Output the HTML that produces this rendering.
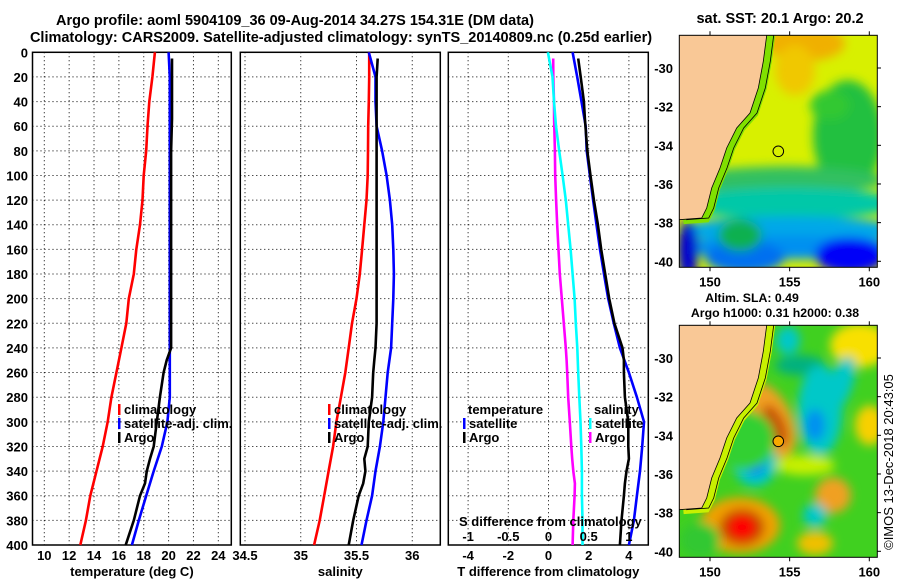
<!DOCTYPE html>
<html><head><meta charset="utf-8"><style>
html,body{margin:0;padding:0;background:#fff}
svg{display:block}
text{font-family:"Liberation Sans",Arial,sans-serif;font-weight:bold;font-size:13px;fill:#000}
text.big{font-size:14.5px}
text.small{font-size:12.3px}
</style></head><body>
<svg id="fig" width="900" height="580" viewBox="0 0 900 580" xmlns="http://www.w3.org/2000/svg">
<defs>
<filter id="blur6" x="-20%" y="-20%" width="140%" height="140%"><feGaussianBlur stdDeviation="5"/></filter>
<clipPath id="clipTop"><rect x="679.3" y="35.3" width="198" height="232"/></clipPath>
<clipPath id="clipBot"><rect x="679.3" y="325.3" width="198" height="232"/></clipPath>
</defs>
<text class="big" x="295" y="25" text-anchor="middle">Argo profile: aoml 5904109_36 09-Aug-2014 34.27S 154.31E (DM data)</text>
<text class="big" x="341" y="42" text-anchor="middle">Climatology: CARS2009. Satellite-adjusted climatology: synTS_20140809.nc (0.25d earlier)</text>
<g id="panels"></g>
<g id="maps"></g>
<text transform="translate(893,462) rotate(-90)" text-anchor="middle" style="font-weight:normal;font-size:13px">©IMOS 13-Dec-2018 20:43:05</text>
</svg>
<script>
// ---------- data ----------
const depthTicks = [0,20,40,60,80,100,120,140,160,180,200,220,240,260,280,300,320,340,360,380,400];
const tempTicks = [10,12,14,16,18,20,22,24];
const salTicks = [34.5,35,35.5,36];
const salTickLabels = ["34.5","35","35.5","36"];
const tdiffTicks = [-4,-2,0,2,4];
const sdiffTicks = [-1,-0.5,0,0.5,1];
const sdiffTickLabels = ["-1","-0.5","0","0.5","1"];

const climDepth = [0,20,40,60,80,100,120,140,160,180,200,220,240,260,280,300,320,340,360,380,400];
const argoDepth = [5,20,40,54,80,100,120,140,160,180,200,220,240,250,260,280,300,320,330,340,350,360,380,400];

const tempClim = [18.9,18.7,18.45,18.3,18.2,18.0,17.9,17.7,17.4,17.2,16.8,16.6,16.2,15.8,15.4,15.1,14.7,14.2,13.7,13.35,12.9];
const tempSat  = [20.0,20.1,20.1,20.1,20.1,20.1,20.1,20.1,20.1,20.1,20.1,20.1,20.1,20.1,20.1,19.9,19.45,18.8,18.2,17.6,17.05];
const tempArgo = [20.27,20.27,20.27,20.27,20.2,20.2,20.2,20.2,20.2,20.2,20.2,20.2,20.2,19.85,19.6,19.3,19.05,18.8,18.5,18.25,18.1,17.7,17.2,16.55];

const salClim = [35.614,35.614,35.61,35.605,35.603,35.6,35.59,35.57,35.55,35.53,35.5,35.46,35.43,35.4,35.36,35.32,35.29,35.25,35.21,35.17,35.12];
const salSat  = [35.61,35.67,35.67,35.68,35.73,35.77,35.80,35.82,35.83,35.835,35.83,35.82,35.81,35.78,35.76,35.74,35.71,35.67,35.64,35.59,35.545];
const salArgo = [35.69,35.68,35.68,35.68,35.68,35.68,35.68,35.68,35.68,35.68,35.68,35.68,35.67,35.66,35.65,35.64,35.61,35.6,35.57,35.58,35.56,35.52,35.47,35.43];

const tdiffSat  = [1.2,1.43,1.64,1.85,1.9,2.06,2.22,2.39,2.56,2.76,2.97,3.25,3.55,4.0,4.4,4.75,4.66,4.55,4.4,4.25,4.0];
const tdiffArgo = [1.48,1.6,1.76,1.81,1.93,2.09,2.26,2.46,2.62,2.82,3.02,3.28,3.68,3.75,3.75,3.8,3.97,3.97,4.0,3.88,3.8,3.75,3.63,3.55];
const sdiffSat  = [-0.008,0.05,0.068,0.093,0.133,0.175,0.215,0.245,0.275,0.3,0.325,0.34,0.358,0.37,0.383,0.398,0.408,0.415,0.415,0.423,0.423];
const sdiffArgo = [0.058,0.06,0.068,0.07,0.08,0.083,0.095,0.108,0.125,0.14,0.165,0.19,0.215,0.225,0.233,0.245,0.265,0.283,0.295,0.308,0.328,0.325,0.308,0.3];

// ---------- layout ----------
const NS = "http://www.w3.org/2000/svg";
const Y0 = 52.3, Y1 = 545;
function yDepth(d){ return Y0 + (Y1 - Y0) * d / 400; }
function mk(tag, attrs, parent){ const e=document.createElementNS(NS,tag); for(const k in attrs) e.setAttribute(k,attrs[k]); parent.appendChild(e); return e; }
const panelsG = document.getElementById('panels');

function xTemp(t){ return 44.3 + (t - 10) * 12.43; }
function xSal(s){ return 245 + (s - 34.5) * 111.5; }
function xTd(t){ return 548.5 + t * 20.1; }
function xSd(s){ return xTd(s * 4); }

function panel(name, x0, x1, ticks, labels, xf, xlabel){
  const g = mk('g', {}, panelsG);
  
  
  depthTicks.forEach(d=>{ if(d>0&&d<400){ const l=mk('line',{x1:x0,x2:x1,y1:yDepth(d),y2:yDepth(d),stroke:'#000','stroke-width':1,'stroke-dasharray':'1,3'},g);
    
     } });
  ticks.forEach((t,i)=>{ const x=xf(t);
    const l=mk('line',{x1:x,x2:x,y1:Y0,y2:Y1,stroke:'#000','stroke-width':1,'stroke-dasharray':'1,3'},g);
    
    
    const tx=mk('text',{x:x,y:560,'text-anchor':'middle'},g); tx.textContent=labels[i];
    
    
  });
  const r=mk('rect',{x:x0,y:Y0,width:x1-x0,height:Y1-Y0,fill:'none',stroke:'#000','stroke-width':1.5},g);
  
  
  const xt=mk('text',{x:(x0+x1)/2,y:576,'text-anchor':'middle'},g); xt.textContent=xlabel;
  
  
  return g;
}
function series(g, name, depths, vals, xf, color){
  const pts = vals.map((v,i)=> xf(v).toFixed(1)+','+yDepth(depths[i]).toFixed(1)).join(' ');
  const p = mk('polyline',{points:pts,fill:'none',stroke:color,'stroke-width':2.6,'stroke-linejoin':'round'},g);
  
  
}
function legend(g, name, x, y, color, label){
  const lg = mk('g',{},g);
  
  
  mk('rect',{x:x-1,y:y-10,width:2.5,height:11,fill:color},lg);
  const t = mk('text',{x:x+5,y:y},lg); t.textContent=label;
}

depthTicks.forEach(d=>{ const t=mk('text',{x:28,y:yDepth(d)+5,'text-anchor':'end'},panelsG); t.textContent=d;
  
   });

const p1 = panel('temperature-panel', 32.5, 231.3, tempTicks, tempTicks.map(String), xTemp, 'temperature (deg C)');
series(p1,'temp-climatology-line',climDepth,tempClim,xTemp,'#ff0000');
series(p1,'temp-satellite-line',climDepth,tempSat,xTemp,'#0000ff');
series(p1,'temp-argo-line',argoDepth,tempArgo,xTemp,'#000');
legend(p1,'legend-climatology',119,414,'#ff0000','climatology');
legend(p1,'legend-satellite-adj',119,428,'#0000ff','satellite-adj. clim.');
legend(p1,'legend-argo',119,442,'#000','Argo');

const p2 = panel('salinity-panel', 240.3, 440.3, salTicks, salTickLabels, xSal, 'salinity');
series(p2,'sal-climatology-line',climDepth,salClim,xSal,'#ff0000');
series(p2,'sal-satellite-line',climDepth,salSat,xSal,'#0000ff');
series(p2,'sal-argo-line',argoDepth,salArgo,xSal,'#000');
legend(p2,'legend-climatology-sal',329,414,'#ff0000','climatology');
legend(p2,'legend-satellite-adj-sal',329,428,'#0000ff','satellite-adj. clim.');
legend(p2,'legend-argo-sal',329,442,'#000','Argo');

const p3 = panel('difference-panel', 448.3, 648.3, tdiffTicks, tdiffTicks.map(String), xTd, 'T difference from climatology');
series(p3,'sdiff-argo-line',argoDepth,sdiffArgo,xSd,'#ff00ff');
series(p3,'sdiff-satellite-line',climDepth,sdiffSat,xSd,'#00ffff');
series(p3,'tdiff-satellite-line',climDepth,tdiffSat,xTd,'#0000ff');
series(p3,'tdiff-argo-line',argoDepth,tdiffArgo,xTd,'#000');
{ const t=mk('text',{x:468,y:414},p3); t.textContent='temperature';
   
  const s=mk('text',{x:594,y:414},p3); s.textContent='salinity';
    }
legend(p3,'legend-t-satellite',464,428,'#0000ff','satellite');
legend(p3,'legend-t-argo',464,442,'#000','Argo');
legend(p3,'legend-s-satellite',590,428,'#00ffff','satellite');
legend(p3,'legend-s-argo',590,442,'#ff00ff','Argo');
{ const t=mk('text',{x:459,y:526},p3); t.textContent='S difference from climatology';
   
  sdiffTicks.forEach((s,i)=>{ const e=mk('text',{x:xSd(s),y:541,'text-anchor':'middle'},p3); e.textContent=sdiffTickLabels[i];
    
     }); }

// ---------- maps ----------
const mapsG = document.getElementById('maps');
function lonX(l){ return 710 + (l-150)*15.93; }
function latY(top, la){ return top + 32.7 + (-30 - la) * 19.33; }
const mapLon = [150,155,160];
const mapLat = [-30,-32,-34,-36,-38,-40];
const coast = [[766.7,0],[763.3,26],[758.3,52.7],[750,77.7],[736.7,92.7],[726.7,112.7],[720,132.7],[711.7,152.7],[706.7,172.7],[701.7,182.7],[679.3,184.4]];
function coastPts(top,dx){ return coast.map(p=>(p[0]+dx)+','+(p[1]+top)).join(' '); }

function map(name, top, blobs, base, dotFill, titleLines, shelf, titleClass){
  const g = mk('g',{},mapsG);
  
  
  const inner = mk('g',{'clip-path': top<100?'url(#clipTop)':'url(#clipBot)'},g);
  mk('rect',{x:679.3,y:top,width:198,height:232,fill:base},inner);
  const bg = mk('g',{filter:'url(#blur6)'},inner);
  blobs.forEach(b=>{ mk('ellipse',{cx:b[0],cy:top+b[1],rx:b[2],ry:b[3],fill:b[4],transform:'rotate('+(b[5]||0)+' '+b[0]+' '+(top+b[1])+')'},bg); });
  mk('polyline',{points:coastPts(top,4),fill:'none',stroke:shelf,'stroke-width':9},inner);
  const land = mk('polygon',{points:'679.3,'+top+' '+coastPts(top,0)},inner);
  land.setAttribute('fill','#f9c896');
  
  
  mk('polyline',{points:coastPts(top,0),fill:'none',stroke:'#000','stroke-width':0.8},inner);
  mk('polyline',{points:coastPts(top,7),fill:'none',stroke:'#000','stroke-width':0.8},inner);
  mk('rect',{x:679.3,y:top,width:198,height:232,fill:'none',stroke:'#000','stroke-width':1},g);
  const c = mk('circle',{cx:778.3,cy:top+116,r:5.3,fill:dotFill,stroke:'#000','stroke-width':1},g);
  
  
  mapLon.forEach(l=>{ const x=lonX(l);
    mk('line',{x1:x,x2:x,y1:top-4,y2:top,stroke:'#000'},g);
    mk('line',{x1:x,x2:x,y1:top+232,y2:top+236,stroke:'#000'},g);
    const t=mk('text',{x:x,y:top+251,'text-anchor':'middle'},g); t.textContent=l;
    
     });
  mapLat.forEach(la=>{ const y=latY(top,la);
    mk('line',{x1:877.3,x2:881,y1:y,y2:y,stroke:'#000'},g);
    const t=mk('text',{x:673,y:y+5,'text-anchor':'end'},g); t.textContent=la;
    
     });
  titleLines.forEach((s,i)=>{ const t=mk('text',{x:s[1],y:s[2],'text-anchor':'middle','class':titleClass},g); t.textContent=s[0];
    
     });
}
map('sst-map', 35.3, [
  [805,8,40,18,'#f0b000'],[795,35,20,25,'#f0c800'],
  [848,100,35,55,'#20c040'],[830,70,20,15,'#30c830'],
  [785,145,100,14,'#30c060'],
  [790,168,110,16,'#00c8a8'],
  [790,195,110,14,'#00a8e8'],
  [790,212,110,12,'#0090f0'],
  [850,220,35,18,'#0000f8'],[745,222,40,16,'#0070f0'],
  [740,200,22,16,'#10b050'],[688,215,10,30,'#0000d0']
],'#d8f000','none',[['sat. SST: 20.1  Argo: 20.2',780,23]],'#80e000','big');
map('sla-map', 325.3, [
  [860,20,30,22,'#f8e000'],[788,15,12,14,'#00c8c8'],[800,40,25,10,'#00b080'],
  [770,95,22,40,'#f0a020',-25],[775,100,10,22,'#c85000',-25],
  [820,85,22,45,'#00c8c8'],[815,100,10,16,'#0090f0'],[840,60,12,30,'#00c8c8',20],
  [755,137,22,24,'#00c8c8'],[755,137,11,13,'#0070ff'],
  [740,200,40,28,'#f0a000'],[742,202,22,18,'#c04000'],[742,202,14,12,'#ff0000'],
  [833,170,18,18,'#f0a020'],[870,100,15,20,'#f8d000'],[815,190,12,12,'#00c8c8'],
  [815,218,18,12,'#f0c000'],[745,115,30,30,'#30d030'],[805,140,30,10,'#c8f000'],
  [700,215,20,18,'#30c830']
],'#40d020','#f8a800',[['Altim. SLA: 0.49',752,302],['Argo h1000: 0.31  h2000: 0.38',775,317]],'#c8f000','small');
</script>
</body></html>
